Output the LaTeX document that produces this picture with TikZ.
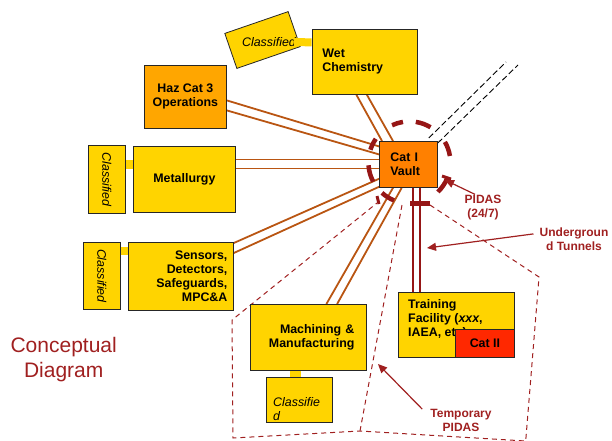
\documentclass[tikz,border=0pt]{standalone}
\usepackage{fontspec}
\setmainfont{Liberation Sans}
\usetikzlibrary{positioning,calc,arrows.meta,backgrounds}

\definecolor{boxyellow}{RGB}{255,212,0}
\definecolor{hazorange}{RGB}{255,166,0}
\definecolor{vaultorange}{RGB}{255,128,0}
\definecolor{cattwored}{RGB}{255,40,0}
\definecolor{pipebrown}{RGB}{185,85,18}
\definecolor{tunnelred}{RGB}{150,22,22}
\definecolor{labelred}{RGB}{160,32,32}

\tikzset{
  box/.style={draw=black!85, line width=0.8pt, fill=boxyellow, inner sep=0pt, anchor=north west,
    font=\fontsize{12.4}{14}\selectfont\bfseries},
  boxtext/.style={inner sep=0pt, font=\fontsize{12.4}{14}\selectfont\bfseries},
  clsbox/.style={draw=black!85, line width=0.8pt, fill=boxyellow, inner sep=0pt},
  clstext/.style={inner sep=0pt, font=\fontsize{12.4}{14}\selectfont\itshape},
  bar/.style={boxyellow, line width=#1, shorten <=0.4pt, shorten >=0.4pt},
  pipe/.style={pipebrown, line width=1.8pt},
  tunnel/.style={tunnelred, line width=2pt},
  exitdash/.style={black, line width=0.9pt, dash pattern=on 6pt off 3pt},
  pidas/.style={tunnelred, line width=4.5pt},
  tempdash/.style={labelred, line width=1pt, dash pattern=on 5pt off 4pt},
  callout/.style={labelred, inner sep=0pt, align=center, font=\fontsize{12}{14}\selectfont\bfseries},
  callarrow/.style={labelred, line width=1.2pt, -{Triangle[length=9pt,width=8pt]}},
}

\begin{document}
\begin{tikzpicture}[x=1pt, y=-1pt]
  \useasboundingbox (0,0) rectangle (612,440);

  % Buildings (top left corner, size in px)
  \node[box, minimum width=105pt, minimum height=65pt, text width=85pt, align=left] (wet) at (312,29) {Wet\\Chemistry};
  \node[box, fill=hazorange, minimum width=82pt, minimum height=63pt, align=center] (haz) at (144,65) {Haz Cat 3\\Operations};
  \node[box, minimum width=102pt, minimum height=66pt] (met) at (133,146) {Metallurgy};
  \node[box, minimum width=105pt, minimum height=68pt, text width=93pt, align=right] (sen) at (128,242) {Sensors,\\Detectors,\\Safeguards,\\MPC\&A};
  \node[box, fill=vaultorange, minimum width=58pt, minimum height=46pt, text width=36pt, align=left] (vault) at (379,141) {Cat I\\Vault};
  \node[box, minimum width=116pt, minimum height=66pt, text width=92pt, align=right] (mach) at (250,304) {Machining \&\\Manufacturing};
  \node[box, minimum width=116pt, minimum height=65pt] (train) at (398,292) {};
  \node[boxtext, anchor=north west, align=left] (traintxt) at ($(train.north west)+(10,7)$) {Training\\Facility (\textit{xxx},\\IAEA, etc)};
  \node[box, fill=cattwored, minimum width=59pt, minimum height=28pt, anchor=south east] (cattwo) at (train.south east) {Cat II};

  % Classified annexes
  \node[clsbox, rotate=19, minimum width=67pt, minimum height=37pt] (clswet) at (262.5,40) {};
  \node[clstext] (clswettxt) at (269,42) {Classified};
  \node[clsbox, minimum width=37pt, minimum height=68pt, anchor=north west] (clsmet) at (88,145) {};
  \node[clstext, rotate=-90] (clsmettxt) at (clsmet.center) {Classified};
  \node[clsbox, minimum width=37pt, minimum height=67pt, anchor=north west] (clssen) at (83,242) {};
  \node[clstext, rotate=-90] (clssentxt) at (clssen.center) {Classified};
  \node[clsbox, minimum width=66pt, minimum height=45pt, anchor=north west] (clsmach) at (266,377) {};
  \node[clstext, anchor=north west, align=left] (clsmachtxt) at ($(clsmach.north west)+(7,20)$) {Classifie\\d};

  % Links to the annexes
  \draw[bar=8pt] ($(clswet.center)+(31,2)$) -- ($(wet.west)+(0,-19.5)$);
  \draw[bar=9pt] ($(clsmet.east)+(0,-14.5)$) -- ($(met.west)+(0,-14.5)$);
  \draw[bar=8pt] ($(clssen.east)+(0,-24.5)$) -- ($(sen.west)+(0,-25)$);
  \draw[bar=11pt] ($(mach.south)+(-12.5,0)$) -- ($(clsmach.north)+(-3.5,0)$);

  \begin{scope}[on background layer]
    % Pipes into the vault
    \draw[pipe] ($(wet.south)+(-8.5,0)$) -- ($(vault.north west)+(3,0)$);
    \draw[pipe] ($(wet.south)+(2,0)$) -- ($(vault.north west)+(14,0)$);
    \draw[pipe] ($(haz.east)+(0,3.5)$) -- ($(vault.west)+(0,-18)$);
    \draw[pipe] ($(haz.east)+(0,13.5)$) -- ($(vault.west)+(0,-10)$);
    \draw[pipe] ($(met.east)+(0,-20)$) -- ($(vault.west)+(0,-5)$);
    \draw[pipe] ($(met.east)+(0,-11)$) -- ($(vault.west)+(0,4)$);
    \draw[pipe] ($(sen.north east)+(0,1)$) -- ($(vault.south west)+(0,-9)$);
    \draw[pipe] ($(sen.north east)+(0,11)$) -- ($(vault.south west)+(0,-1)$);
    \draw[pipe] ($(mach.north)+(18,0)$) -- ($(vault.south west)+(14,0)$);
    \draw[pipe] ($(mach.north)+(28.7,0)$) -- ($(vault.south west)+(22.7,0)$);

    % Underground tunnels
    \coordinate (tunA) at ($(vault.south)+(4.7,0)$);
    \coordinate (tunB) at ($(vault.south)+(12,0)$);
    \draw[tunnel] (tunA) -- (tunA |- train.north);
    \draw[tunnel] (tunB) -- (tunB |- train.north);
    \coordinate (exitA) at (506,62);
    \coordinate (exitB) at (518,65);
    \draw[exitdash] ($(vault.north east)+(-9,-3)$) -- (exitA);
    \draw[exitdash] ($(vault.north east)+(0,2)$) -- (exitB);

    % Temporary PIDAS
    \draw[tempdash] (430,205) -- (539,277) -- (525.7,441) -- (360,431) -- (233,438) -- (232,320) -- (377,203);
    \draw[tempdash] (402,205) -- (360,431);
  \end{scope}

  % PIDAS ring (angles as seen on the page)
  \coordinate (ringc) at ($(vault.center)+(1,-2)$);
  \foreach \s/\e in {9/30, 59/81, 99/115, 145/162, 184/208, 228/248, 314/337}
    \draw[pidas] ($(ringc)+(-\s:41)$) arc[start angle=-\s, end angle=-\e, radius=41];
  \draw[pidas] (410,203.5) -- (430,203.5);
  \draw[tunnelred, line width=3pt] (442,176) -- (451,179);
  \draw[tunnelred, line width=3pt] (377,196) -- (379,204);

  % Callouts
  \node[callout] (pidaslbl) at (483,208) {PIDAS\\(24/7)};
  \node[callout] (tunlbl) at (574,239.5) {Undergroun\\d Tunnels};
  \node[callout] (templbl) at (461,420.5) {Temporary\\PIDAS};
  \node[labelred, align=center, inner sep=0pt, font=\fontsize{21}{24.7}\selectfont] (concept) at (63.7,359.3) {Conceptual\\Diagram};
  \coordinate (pidastip) at (445,180);
  \coordinate (tuntip) at (427,248);
  \coordinate (temptip) at (378,364);
  \draw[callarrow] ($(pidaslbl.north)+(-8,-1)$) -- (pidastip);
  \draw[callarrow] ($(tunlbl.north west)+(-6,6)$) -- (tuntip);
  \draw[callarrow] ($(templbl.north west)+(-8,0)$) -- (temptip);
\end{tikzpicture}
\end{document}
